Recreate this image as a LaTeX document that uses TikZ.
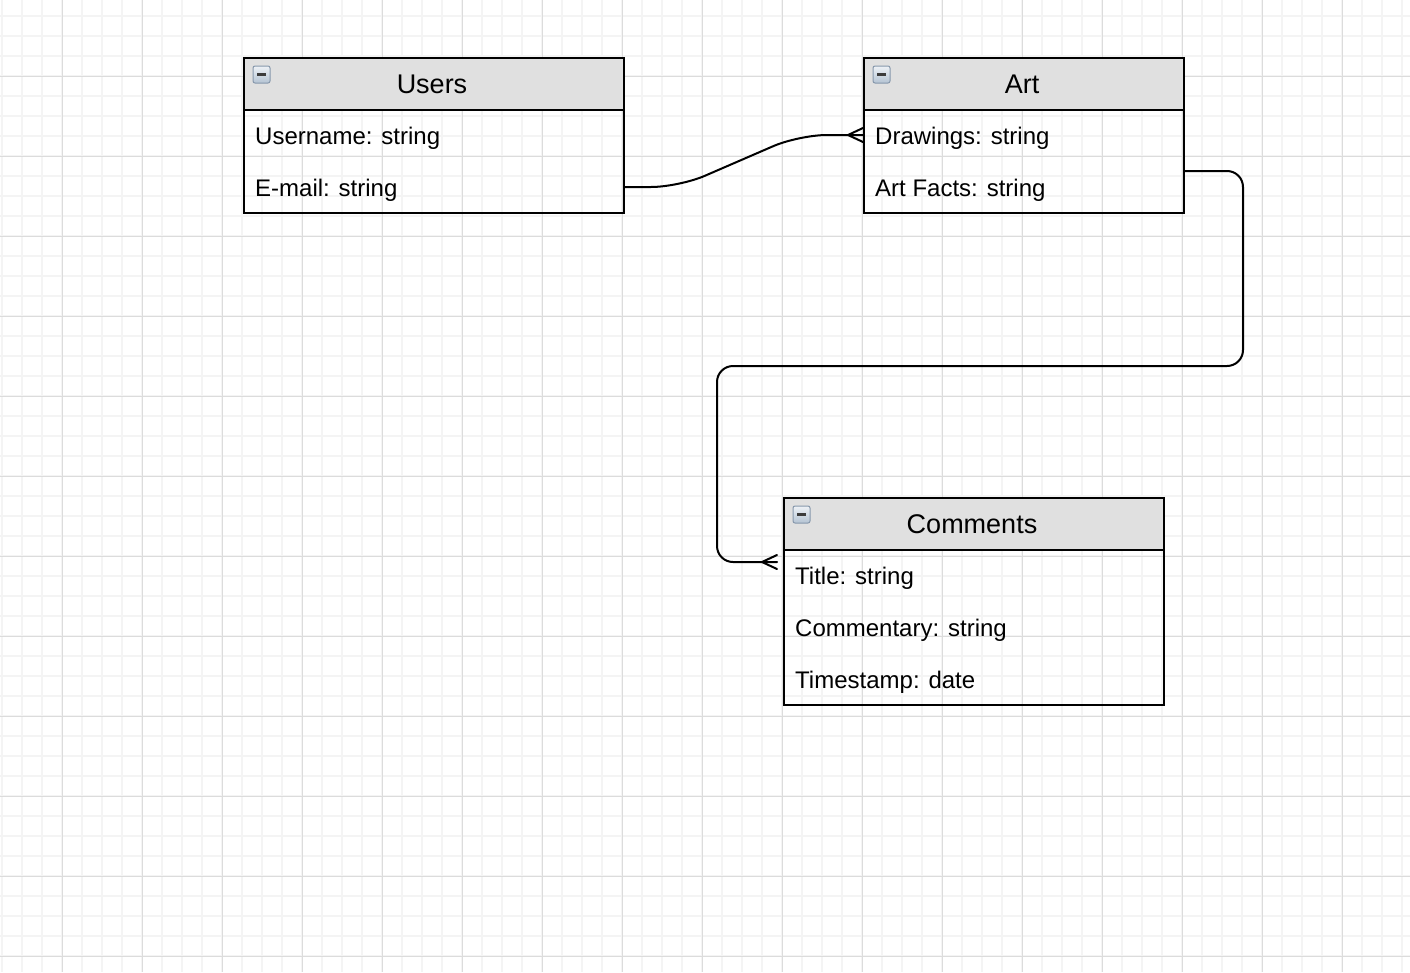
\documentclass[tikz,border=0pt]{standalone}
\usepackage{fontspec}
\setmainfont{Liberation Sans}
\definecolor{gridminor}{HTML}{F4F4F4}
\definecolor{gridmajor}{HTML}{DCDCDC}
\definecolor{hdr}{HTML}{E0E0E0}
\definecolor{icontop}{HTML}{EEF2F6}
\definecolor{iconbot}{HTML}{B4C3D3}
\definecolor{iconbrd}{HTML}{8798AC}
\definecolor{iconbar}{HTML}{3C3C3C}
\newcommand\erIcon[1]{%
  \begin{scope}[shift={#1}]
    \shade[top color=icontop, bottom color=iconbot, draw=iconbrd, line width=1pt, rounded corners=2pt] (0,0) rectangle (17,17);
    \fill[iconbar] (4,7.3) rectangle (13,9.7);
  \end{scope}}
\begin{document}
\begin{tikzpicture}[x=1pt,y=-1pt,
  entity/.style={draw=black, line width=2pt, anchor=north west, inner sep=0pt, minimum width=380pt},
  header/.style={fill=hdr, draw=black, line width=2pt, anchor=north west, inner sep=0pt, minimum height=52pt},
  title/.style={anchor=base, inner sep=0pt, font=\fontsize{27}{31}\selectfont},
  field/.style={anchor=base west, inner sep=0pt, font=\fontsize{24}{28}\selectfont},
  conn/.style={line width=2pt, line join=round, line cap=round}]
\useasboundingbox (0,0) rectangle (1410,972);
\fill[white] (0,0) rectangle (1410,972);
% grid
\foreach \x in {2,22,...,1410} \draw[gridminor, line width=1.5pt] (\x,0) -- (\x,972);
\foreach \y in {16,36,...,972} \draw[gridminor, line width=1.5pt] (0,\y) -- (1410,\y);
\foreach \x in {62,142,...,1410} \draw[gridmajor, line width=1pt] (\x,0) -- (\x,972);
\foreach \y in {76,156,...,972} \draw[gridmajor, line width=1pt] (0,\y) -- (1410,\y);

% Users
\node[header, minimum width=380pt] (usersH) at (243,57) {};
\node[title] (usersT) at (432,93) {Users};
\node[field] (uname) at (255,144) {Username: string};
\node[field] (email) at (255,196) {E-mail: string};
\node[entity, minimum height=155pt] (users) at (243,57) {};
\erIcon{(253,66)}

% Art
\node[header, minimum width=320pt] (artH) at (863,57) {};
\node[title] (artT) at (1022,93) {Art};
\node[field] (draw) at (875,144) {Drawings: string};
\node[field] (facts) at (875,196) {Art Facts: string};
\node[entity, minimum width=320pt, minimum height=155pt] (art) at (863,57) {};
\erIcon{(873,66)}

% Comments
\node[header, minimum width=380pt] (comH) at (783,497) {};
\node[title] (comT) at (972,533) {Comments};
\node[field] (ctitle) at (795,584) {Title: string};
\node[field] (ccomm) at (795,636) {Commentary: string};
\node[field] (cstamp) at (795,688) {Timestamp: date};
\node[entity, minimum height=207pt] (com) at (783,497) {};
\erIcon{(793,506)}

% Users -> Art (many)
\draw[conn, rounded corners=28pt] (users.east |- 0,187) -- (679,187) -- (799,135) -- (art.west |- 0,135);
\draw[conn] (art.west |- 0,128) -- (848,135) -- (art.west |- 0,142);

% Art -> Comments (many)
\coordinate (c2end) at (777,562);
\draw[conn, rounded corners=16pt] (art.east |- 0,171) -- (1243,171) -- (1243,366) -- (717,366) -- (717,562) -- (c2end);
\draw[conn] (777,555) -- (762,562) -- (777,569);
\end{tikzpicture}
\end{document}
